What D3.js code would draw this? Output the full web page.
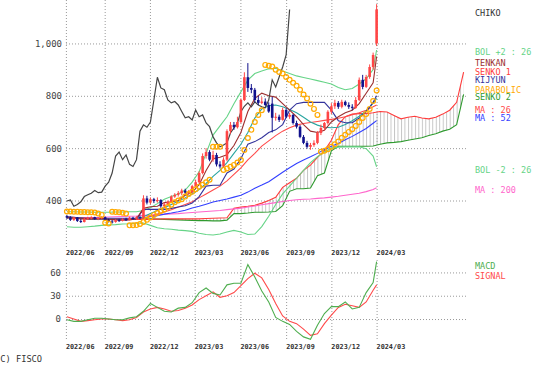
<!DOCTYPE html>
<html>
<head>
<meta charset="utf-8">
<script src="https://cdn.jsdelivr.net/npm/d3@7/dist/d3.min.js"></script>
<style>
  body { margin: 0; background: #fff; }
  svg { display: block; font-family: "DejaVu Sans Mono", monospace; }
</style>
</head>
<body>
<svg id="chart" width="538" height="373"></svg>
<script>
//Chart data (weekly bars, first one is the Friday 2022/06/17)
const firstWeek = new Date(2022, 5, 17)
const priceTicks = [400, 600, 800, 1000]
const macdTicks = [0, 30, 60]
const monthTicks = [new Date(2022, 5, 15), new Date(2022, 8, 1), new Date(2022, 11, 1), new Date(2023, 2, 1),
                    new Date(2023, 5, 1), new Date(2023, 8, 1), new Date(2023, 11, 1), new Date(2024, 2, 1)]

const open = [340, 335, 326, 335, 322, 318, 330, 332, 336, 330,
              333, 336, 326, 320, 318, 325, 322, 328, 326, 334,
              330, 336, 334, 408, 392, 405, 398, 402, 378, 385,
              395, 415, 422, 428, 438, 430, 432, 455, 470, 505,
              570, 585, 556, 574, 538, 530, 556, 665, 689, 680,
              700, 784, 871, 830, 823, 784, 773, 778, 765, 770,
              716, 720, 708, 746, 720, 727, 696, 682, 643, 620,
              605, 612, 620, 658, 677, 696, 739, 760, 773, 758,
              777, 765, 758, 754, 784, 861, 834, 872, 910, 1000]
const high = [345, 340, 338, 337, 330, 334, 338, 340, 338, 336,
              340, 338, 330, 326, 328, 330, 332, 334, 338, 338,
              340, 342, 420, 418, 412, 410, 412, 405, 392, 400,
              420, 428, 436, 445, 445, 440, 460, 480, 512, 580,
              600, 592, 590, 582, 550, 565, 672, 700, 700, 720,
              790, 890, 925, 845, 830, 800, 795, 790, 775, 796,
              735, 728, 755, 752, 735, 730, 705, 688, 650, 628,
              620, 630, 665, 690, 700, 745, 772, 785, 780, 785,
              782, 775, 768, 795, 870, 880, 880, 920, 965, 1150]
const low = [330, 322, 322, 318, 314, 316, 326, 328, 326, 325,
             328, 322, 316, 312, 315, 318, 320, 322, 324, 326,
             326, 328, 332, 385, 386, 390, 392, 372, 370, 380,
             390, 410, 415, 420, 425, 422, 428, 450, 465, 500,
             560, 550, 548, 530, 522, 525, 550, 655, 670, 675,
             695, 780, 815, 810, 775, 765, 768, 760, 735, 660,
             705, 700, 705, 715, 712, 690, 675, 638, 615, 598,
             594, 605, 615, 650, 668, 690, 730, 750, 750, 752,
             760, 750, 745, 750, 780, 825, 830, 865, 900, 990]
const close = [335, 326, 335, 322, 318, 330, 332, 336, 330, 333,
               336, 326, 320, 318, 325, 322, 328, 326, 334, 330,
               336, 334, 408, 392, 405, 398, 402, 378, 385, 395,
               415, 422, 428, 438, 430, 432, 455, 470, 505, 570,
               585, 556, 574, 538, 530, 556, 665, 689, 680, 700,
               784, 871, 830, 823, 784, 773, 778, 765, 740, 716,
               720, 708, 746, 720, 727, 696, 682, 643, 620, 605,
               612, 620, 658, 677, 696, 739, 760, 773, 758, 777,
               765, 758, 754, 784, 861, 834, 872, 910, 956, 1130]

//Parabolic SAR, one value per week
const parabolic = [358, 358, 357, 357, 356, 356, 355, 355, 354, 350, 345,
                   315, 312,
                   357, 356, 355, 353, 350,
                   305, 305, 306, 310,
                   318, 326, 335, 345, 352, 360, 366, 375, 384, 393, 400, 405, 415, 425, 433, 443, 453, 460, 470, 479,
                   605, 605, 605,
                   517, 522, 529, 536, 545, 555, 593, 639, 670, 700, 727, 745,
                   918, 915, 912, 900, 891, 885, 872, 861, 850, 838, 823, 805, 790, 770, 750, 727,
                   586, 590, 596, 605, 615, 625, 640, 651, 662, 672, 685, 700, 715, 730, 750, 780, 820]

//Lines read every second week (weeks 0,2,...,88 and the last week 89)
const lineWeeks = d3.range(0, 89, 2).concat([89])
const bolUp = [357, 357, 356, 356, 355, 355, 355, 356, 356, 357, 357,
               362, 372, 388, 405, 415, 425, 440, 470, 510, 580,
               650, 685, 720, 770, 815, 860, 885, 895, 903, 905,
               895, 885, 876, 870, 864, 858, 852, 845, 832, 823,
               828, 845, 865, 900, 975]
const bolDown = [300, 298, 298, 300, 302, 305, 307, 308, 310, 311, 313,
                 314, 305, 296, 292, 290, 287, 285, 282, 275, 270,
                 268, 272, 280, 286, 280, 270, 272, 300, 340, 385,
                 425, 455, 485, 515, 545, 567, 585, 600, 604, 605,
                 605, 605, 598, 570, 529]
const ma13 = [335, 334, 332, 330, 330, 331, 330, 328, 327, 328, 330,
              338, 350, 362, 372, 385, 397, 410, 425, 442, 465,
              492, 515, 545, 580, 615, 660, 715, 750, 762, 765,
              758, 748, 735, 718, 700, 688, 680, 678, 680, 690,
              705, 722, 742, 772, 790]
const ma26 = [336, 335, 334, 333, 332, 331, 331, 330, 329, 329, 329,
              333, 340, 348, 356, 365, 375, 385, 395, 410, 425,
              440, 455, 475, 500, 525, 555, 580, 608, 628, 648,
              665, 678, 688, 694, 698, 702, 706, 710, 714, 720,
              728, 735, 745, 758, 765]
const ma52 = [336, 335, 334, 333, 333, 332, 332, 332, 332, 332, 332,
              334, 338, 342, 348, 352, 357, 363, 371, 378, 386,
              394, 400, 406, 413, 420, 432, 447, 459, 472, 490,
              508, 525, 541, 555, 567, 580, 595, 607, 618, 632,
              645, 660, 675, 695, 705]
const ma200 = [333, 334, 334, 335, 335, 336, 337, 338, 339, 340, 341,
               343, 344, 346, 347, 349, 350, 352, 354, 356, 358,
               360, 362, 365, 368, 371, 375, 379, 384, 388, 392,
               396, 400, 403, 405, 406, 408, 410, 413, 416, 420,
               424, 428, 434, 442, 449]
const tenkan = [335, 333, 330, 330, 330, 331, 328, 326, 325, 326, 330,
                370, 376, 378, 392, 395, 400, 420, 432, 460, 515,
                560, 565, 575, 610, 660, 740, 790, 810, 800, 795,
                770, 745, 720, 690, 665, 660, 668, 700, 720, 735,
                745, 770, 810, 850, 950]
const kijun = [338, 336, 333, 330, 330, 330, 329, 329, 329, 329, 329,
               366, 366, 366, 366, 370, 375, 380, 390, 415, 455,
               458, 458, 505, 520, 560, 615, 625, 640, 660, 670,
               690, 745, 770, 775, 775, 775, 775, 745, 705, 697,
               697, 715, 740, 775, 800]
const macd = [-1, -3, -3, -1, 1, 1, 0, -1, -1, 1.5, 3,
              10, 20, 15, 10, 9, 14, 15, 21, 34, 40,
              33, 31, 44, 46, 46, 70, 54, 36, 22, 2,
              -3, -7, -16, -23, -26, -8, 7, 16, 16, 22,
              13, 15, 34, 47, 74]
const signal = [3, 0, -3, -2, -1, 0, 0, -1, -2, -1, 2,
                9, 13, 15, 13, 10, 11, 14, 18, 25, 30,
                35, 28, 30, 34, 43, 52, 59, 53, 38, 20,
                4, -3, -6, -13, -21, -19, -6, 5, 15, 19,
                17, 15, 22, 37, 44]

//Leading spans run 25 weeks past the last bar (weeks 0,2,...,112 and 114)
const cloudWeeks = d3.range(0, 114, 2).concat([114])
const senko1 = [336, 335, 334, 333, 332, 331, 330, 330, 329, 329, 328,
                328, 328, 329, 330, 330, 330, 330, 330, 330, 331,
                332, 333, 334, 370, 375, 378, 382, 390, 400, 412,
                450, 468, 485, 515, 535, 565, 590, 630, 690, 720,
                730, 732, 732, 735, 740, 738, 725, 712, 718, 722,
                715, 712, 718, 730, 745, 775, 890]
const senko2 = [332, 332, 331, 331, 330, 330, 330, 330, 330, 330, 330,
                330, 330, 329, 328, 327, 326, 325, 324, 323, 323,
                322, 322, 325, 350, 350, 352, 355, 355, 356, 358,
                380, 435, 445, 445, 448, 495, 505, 590, 607, 607,
                607, 607, 607, 608, 615, 620, 622, 625, 630, 635,
                640, 648, 655, 665, 672, 690, 805]

//The lagging span is the close drawn 25 weeks back
const chikoShift = 25

//Scales
const weekDate = function(w) { return d3.timeFriday.offset(firstWeek, w) }
const x = d3.scaleTime().domain([firstWeek, weekDate(114)]).range([66.9, 463.6])
const yMain = d3.scaleLinear().domain([230, 1166]).range([245, 0])
const yMacd = d3.scaleLinear().domain([-27, 76]).range([340, 260])

const svg = d3.select("#chart")
const gridLeft = 66, gridRight = 467
const ink = "#444"

//Grid lines
function styleGrid(g) {
  g.select(".domain").remove()
  g.selectAll("line").attr("stroke", "#999").attr("stroke-dasharray", "1,2")
  g.attr("font-family", null).attr("font-size", null)
  g.selectAll("text").attr("fill", ink).attr("font-size", 9)
}

svg.append("g")
  .attr("transform", "translate(" + gridLeft + ",0)")
  .call(d3.axisLeft(yMain).tickValues(priceTicks).tickSize(-(gridRight - gridLeft)).tickPadding(4).tickFormat(d3.format(",")))
  .call(styleGrid)

svg.append("g")
  .attr("transform", "translate(" + gridLeft + ",0)")
  .call(d3.axisLeft(yMacd).tickValues(macdTicks).tickSize(-(gridRight - gridLeft)).tickPadding(5))
  .call(styleGrid)

svg.append("g")
  .call(d3.axisBottom(x).tickValues(monthTicks).tickSize(247).tickFormat(""))
  .call(styleGrid)

svg.append("g")
  .attr("transform", "translate(0,260)")
  .call(d3.axisBottom(x).tickValues(monthTicks).tickSize(81).tickFormat(""))
  .call(styleGrid)

//Month labels above and below the MACD panel
const monthFormat = d3.timeFormat("%Y/%m")
;[253, 347].forEach(function(yy) {
  svg.append("g").selectAll("text")
    .data(monthTicks)
    .join("text")
    .attr("x", function(d) { return x(d) })
    .attr("y", yy)
    .attr("dy", "0.35em")
    .attr("font-size", 6.8)
    .attr("font-weight", "bold")
    .attr("fill", "#333")
    .text(monthFormat)
})

//Helpers for the lines
function points(vals, weeks) {
  return vals.map(function(v, i) { return {d: weekDate(weeks[i]), v: v} })
}
const mainLine = d3.line().x(function(p) { return x(p.d) }).y(function(p) { return yMain(p.v) })
const macdLine = d3.line().x(function(p) { return x(p.d) }).y(function(p) { return yMacd(p.v) })

function drawLine(vals, weeks, color, gen) {
  svg.append("path")
    .datum(points(vals, weeks))
    .attr("fill", "none")
    .attr("stroke", color)
    .attr("stroke-width", 1.1)
    .attr("d", gen || mainLine)
}

//Cloud hatching between the leading spans
const defs = svg.append("defs")
const hatch = defs.append("pattern")
  .attr("id", "hatch")
  .attr("patternUnits", "userSpaceOnUse")
  .attr("x", 66.9)
  .attr("width", 3.48)
  .attr("height", 8)
hatch.append("line")
  .attr("x1", 0.5).attr("x2", 0.5).attr("y1", 0).attr("y2", 8)
  .attr("stroke", "#b4b4b4").attr("stroke-width", 0.8)

const cloud = senko1.map(function(v, i) { return {d: weekDate(cloudWeeks[i]), a: v, b: senko2[i]} })
svg.append("path")
  .datum(cloud)
  .attr("fill", "url(#hatch)")
  .attr("d", d3.area()
    .x(function(p) { return x(p.d) })
    .y0(function(p) { return yMain(p.a) })
    .y1(function(p) { return yMain(p.b) }))

drawLine(senko2, cloudWeeks, "#2f9a2f")
drawLine(senko1, cloudWeeks, "#ff3b3b")
drawLine(ma200, lineWeeks, "#ff66cc")
drawLine(bolDown, lineWeeks, "#66d487")
drawLine(bolUp, lineWeeks, "#66d487")
drawLine(ma52, lineWeeks, "#3340ff")
drawLine(ma26, lineWeeks, "#ff4a4a")
drawLine(ma13, lineWeeks, "#2aa5a0")
drawLine(kijun, lineWeeks, "#34349c")
drawLine(tenkan, lineWeeks, "#9c2f2f")

//Lagging span
const chiko = close.slice(chikoShift).map(function(c, i) { return {d: weekDate(i), v: c} })
svg.append("path")
  .datum(chiko)
  .attr("fill", "none")
  .attr("stroke", "#454545")
  .attr("stroke-width", 1.2)
  .attr("d", mainLine)

//Candles: red rising, blue falling
const candles = close.map(function(c, i) {
  return {d: weekDate(i), o: open[i], h: high[i], l: low[i], c: c}
})
const candleColor = function(d) { return d.c >= d.o ? "#ff4545" : "#10108c" }
const gCandles = svg.append("g")
gCandles.selectAll("line")
  .data(candles)
  .join("line")
  .attr("x1", function(d) { return x(d.d) })
  .attr("x2", function(d) { return x(d.d) })
  .attr("y1", function(d) { return yMain(d.h) })
  .attr("y2", function(d) { return yMain(d.l) })
  .attr("stroke", candleColor)
  .attr("stroke-width", 1)
gCandles.selectAll("rect")
  .data(candles)
  .join("rect")
  .attr("x", function(d) { return x(d.d) - 1.3 })
  .attr("width", 2.6)
  .attr("y", function(d) { return yMain(Math.max(d.o, d.c)) })
  .attr("height", function(d) { return Math.max(1, Math.abs(yMain(d.o) - yMain(d.c))) })
  .attr("fill", candleColor)

//Parabolic circles
svg.append("g").selectAll("circle")
  .data(parabolic)
  .join("circle")
  .attr("cx", function(v, i) { return x(weekDate(i)) })
  .attr("cy", function(v) { return yMain(v) })
  .attr("r", 2.4)
  .attr("fill", "none")
  .attr("stroke", "#ffaa00")
  .attr("stroke-width", 1.2)

//MACD panel
drawLine(signal, lineWeeks, "#ff4a4a", macdLine)
drawLine(macd, lineWeeks, "#4fae4f", macdLine)

//Legend on the right
const legend = [
  {t: "CHIKO", c: "#333333", y: 13},
  {t: "BOL +2 : 26", c: "#66d487", y: 52},
  {t: "TENKAN", c: "#9c2f2f", y: 63},
  {t: "SENKO 1", c: "#ff3b3b", y: 72},
  {t: "KIJYUN", c: "#34349c", y: 80.5},
  {t: "PARABOLIC", c: "#ffaa00", y: 90},
  {t: "SENKO 2", c: "#2f9a2f", y: 97.5},
  {t: "MA : 26", c: "#ff4a4a", y: 110},
  {t: "MA : 52", c: "#3340ff", y: 118.5},
  {t: "BOL -2 : 26", c: "#66d487", y: 170.5},
  {t: "MA : 200", c: "#ff66cc", y: 190},
  {t: "MACD", c: "#4fae4f", y: 266.5},
  {t: "SIGNAL", c: "#ff4a4a", y: 276.5}
]
svg.append("g").selectAll("text")
  .data(legend)
  .join("text")
  .attr("x", 475)
  .attr("y", function(d) { return d.y })
  .attr("dy", "0.35em")
  .attr("font-size", 8.5)
  .attr("fill", function(d) { return d.c })
  .text(function(d) { return d.t })

svg.append("text")
  .attr("x", -5)
  .attr("y", 359)
  .attr("dy", "0.35em")
  .attr("font-size", 8.7)
  .attr("fill", "#333")
  .text("(C) FISCO")
</script>
</body>
</html>
